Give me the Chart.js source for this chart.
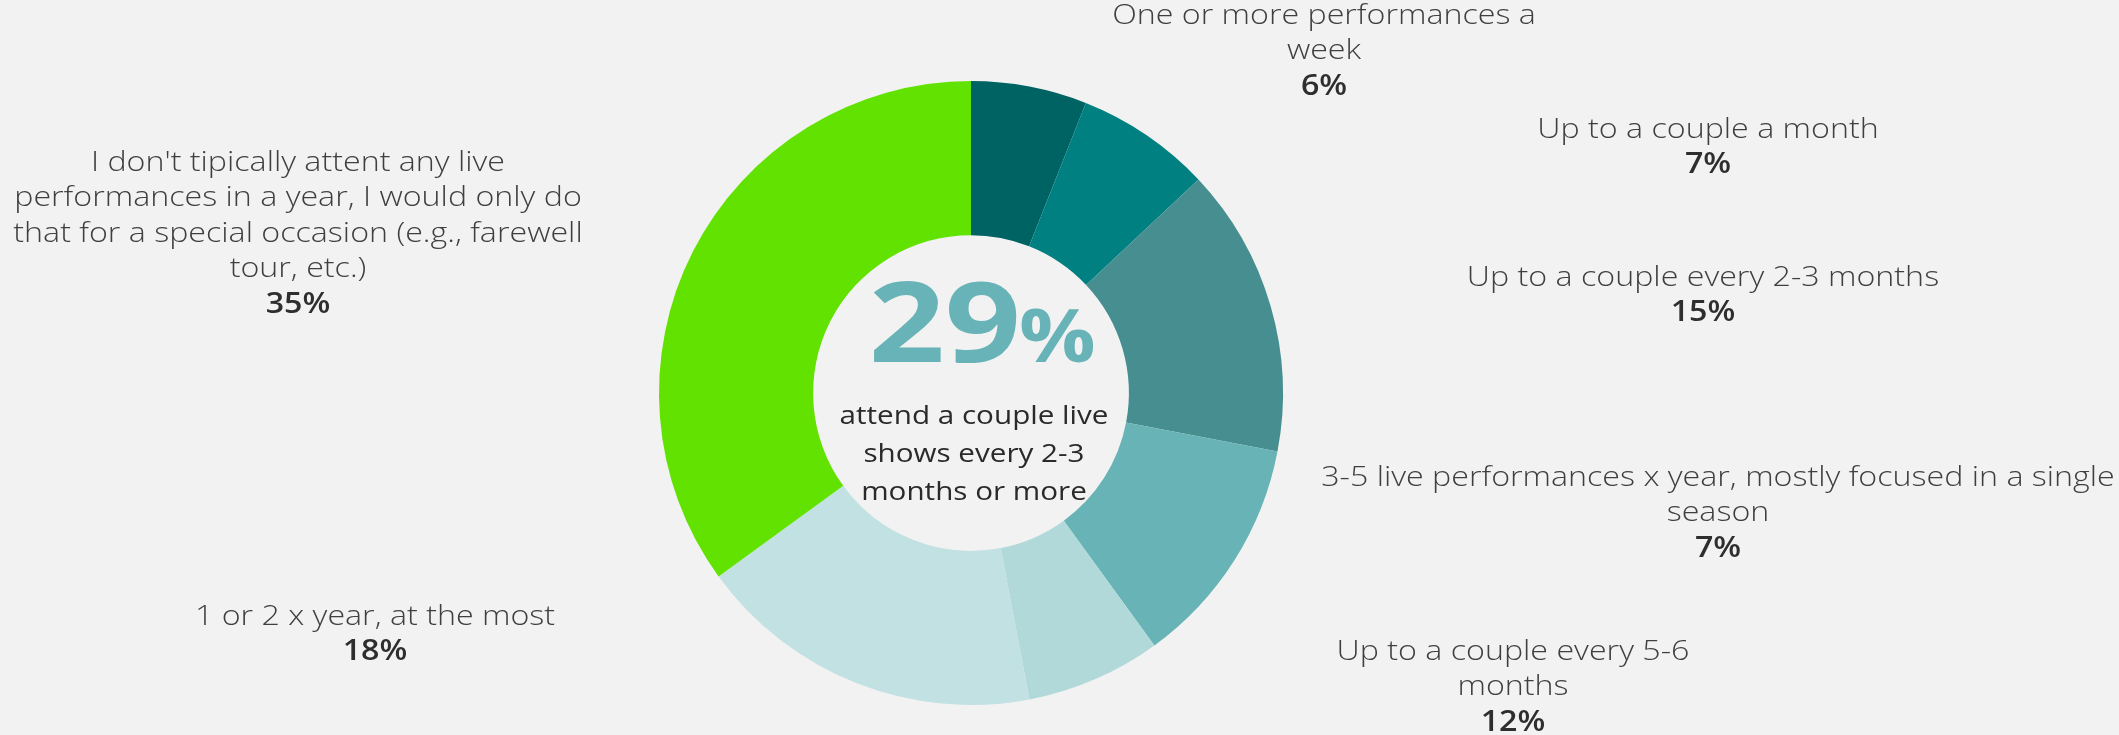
<!DOCTYPE html>
<html>
<head>
<meta charset="utf-8">
<script src="https://cdn.jsdelivr.net/npm/chart.js@4.4.1/dist/chart.umd.min.js"></script>
<style>
  html, body { margin: 0; padding: 0; background: #f2f2f2; }
  #wrap { width: 2119px; height: 735px; position: relative; }
</style>
</head>
<body>
<div id="wrap"><canvas id="c" width="2119" height="735"></canvas></div>
<script>
// Attendance frequency categories (each entry is the wrapped label lines)
const categories = [
  ["One or more performances a", "week"],
  ["Up to a couple a month"],
  ["Up to a couple every 2-3 months"],
  ["Up to a couple every 5-6", "months"],
  ["3-5 live performances x year, mostly focused in a single", "season"],
  ["1 or 2 x year, at the most"],
  ["I don't tipically attent any live", "performances in a year, I would only do", "that for a special occasion (e.g., farewell", "tour, etc.)"]
];
// Share of respondents, %
const shares = [6, 7, 15, 12, 7, 18, 35];
const sliceColors = ["#006363", "#008081", "#468e90", "#67b3b6", "#b1d9d9", "#c2e1e2", "#62e200"];

// Headline in the hole
const headlineValue = "29";
const headlineText = ["attend a couple live", "shows every 2-3", "months or more"];

// Where each callout sits (centre x, first line y)
const calloutLayout = [
  { x: 1324, y: 16 },
  { x: 1708, y: 130 },
  { x: 1703, y: 278 },
  { x: 1513, y: 652 },
  { x: 1718, y: 478 },
  { x: 375, y: 617 },
  { x: 298, y: 163 }
];

const LINE_H = 35.5;
const FONT_FAMILY = "'Open Sans', Lato, sans-serif";
const WIDE = 1.15;   // the typeface is set a little wider than Open Sans

function wideText(ctx, text, x, y, sx, align) {
  ctx.save();
  ctx.translate(x, y);
  ctx.scale(sx, 1);
  ctx.textAlign = align || 'center';
  ctx.fillText(text, 0, 0);
  ctx.restore();
}

const calloutPlugin = {
  id: 'callouts',
  afterDraw(chart) {
    const ctx = chart.ctx;
    const arc = chart.getDatasetMeta(0).data[0];
    const cx = arc.x, cy = arc.y;
    ctx.save();
    ctx.textBaseline = 'middle';
    categories.forEach((lines, i) => {
      const pos = calloutLayout[i];
      ctx.fillStyle = '#3f3f3f';
      ctx.font = "300 28px " + FONT_FAMILY;
      lines.forEach((ln, k) => wideText(ctx, ln, pos.x, pos.y + k * LINE_H, WIDE));
      ctx.fillStyle = '#2e2e2e';
      ctx.font = "600 28px " + FONT_FAMILY;
      wideText(ctx, chart.data.datasets[0].data[i] + '%', pos.x, pos.y + lines.length * LINE_H, WIDE);
    });

    // Headline figure
    ctx.fillStyle = '#68b3b7';
    ctx.textBaseline = 'alphabetic';
    ctx.font = "700 111px " + FONT_FAMILY;
    wideText(ctx, headlineValue, cx + 50, cy - 31, 1.2, 'right');
    ctx.font = "700 74px " + FONT_FAMILY;
    wideText(ctx, '%', cx + 48, cy - 31, 1.15, 'left');

    ctx.fillStyle = '#2a2a2a';
    ctx.font = "500 26px " + FONT_FAMILY;
    headlineText.forEach((ln, k) => wideText(ctx, ln, cx + 3, cy + 31 + k * 38, 1.14));
    ctx.restore();
  }
};

new Chart(document.getElementById('c'), {
  type: 'doughnut',
  data: {
    labels: categories,
    datasets: [{
      data: shares,
      backgroundColor: sliceColors,
      borderWidth: 0
    }]
  },
  options: {
    responsive: false,
    animation: false,
    cutout: '50.6%',
    layout: { padding: { left: 659, right: 836, top: 81, bottom: 30 } },
    plugins: { legend: { display: false }, tooltip: { enabled: false } }
  },
  plugins: [calloutPlugin]
});
</script>
</body>
</html>
